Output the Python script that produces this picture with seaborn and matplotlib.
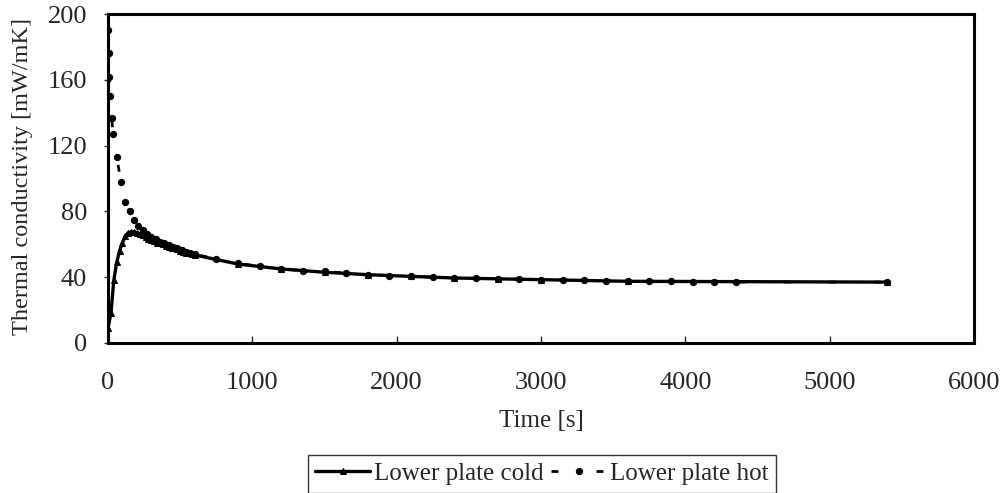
import matplotlib
matplotlib.use("Agg")
import matplotlib.pyplot as plt
import seaborn as sns

# === Data ===
cold_time = [0, 20, 40, 60, 80, 100, 120, 140, 160, 180, 200, 220, 240, 260, 280,
             300, 320, 340, 360, 380, 400, 420, 440, 460, 480, 500, 520, 540, 560,
             580, 600, 900, 1200, 1500, 1800, 2100, 2400, 2700, 3000, 3600, 5400]
cold_k = [9, 18, 38, 49, 56, 61, 65, 67, 67.5, 67.5, 67, 66.5, 65.5, 64.5, 63.5,
          62.5, 62, 61, 60.5, 60, 59, 58.5, 58, 57.5, 57, 56, 55.5, 55, 54.5,
          54, 53.5, 48, 45, 43, 41.5, 40.5, 39.5, 39, 38.5, 37.5, 37]

hot_time = [0, 5, 10, 15, 25, 35, 60, 90, 120, 150, 180, 210, 240, 270, 300, 330,
            360, 390, 420, 450, 480, 510, 540, 570, 600, 750, 900, 1050, 1200, 1350,
            1500, 1650, 1800, 1950, 2100, 2250, 2400, 2550, 2700, 2850, 3000, 3150,
            3300, 3450, 3600, 3750, 3900, 4050, 4200, 4350, 5400]
hot_k = [190, 176, 162, 150, 137, 127, 113, 98, 86, 80, 74.5, 71, 68.5, 66.5, 64.5, 63,
         61.5, 60.5, 59.5, 58.5, 57.5, 56.5, 55.5, 55, 54, 51, 48.5, 46.5, 45, 44,
         43.5, 42.5, 41.5, 41, 40.5, 40, 39.5, 39.3, 39, 38.8, 38.5, 38.3,
         38, 37.8, 37.7, 37.5, 37.4, 37.3, 37.2, 37.1, 37]

x_ticks = [0, 1000, 2000, 3000, 4000, 5000, 6000]
y_ticks = [0, 40, 80, 120, 160, 200]

# === Style ===
sns.set_style("white")
plt.rcParams["font.family"] = ["Liberation Serif", "DejaVu Serif"]

fig = plt.figure(figsize=(10.04, 4.93), dpi=100)
ax = fig.add_axes([0.1076, 0.3043, 0.8625, 0.6673])

# === Draw series ===
sns.lineplot(x=cold_time, y=cold_k, ax=ax, color="black", linewidth=2.4,
             marker="^", markersize=5, markeredgecolor="black",
             markerfacecolor="black", sort=False, label="Lower plate cold")
sns.lineplot(x=hot_time, y=hot_k, ax=ax, color="black", linewidth=2.0,
             linestyle=(0, (2.5, 13.7)), marker="o", markersize=4.5,
             markeredgecolor="black", markerfacecolor="black", sort=False,
             label="Lower plate hot")

# === Axes ===
ax.set_xlim(0, 6000)
ax.set_ylim(0, 200)
ax.set_xticks(x_ticks)
ax.set_yticks(y_ticks)
ax.tick_params(axis="x", direction="in", length=5, width=1, labelsize=19, pad=21,
               bottom=True)
ax.tick_params(axis="y", direction="out", length=3, width=1, labelsize=19, pad=12,
               left=True)
for s in ax.spines.values():
    s.set_color("black")
    s.set_linewidth(2.2)

ax.set_xlabel("Time [s]", fontsize=18)
ax.xaxis.set_label_coords(0.5, -0.205)
ax.set_ylabel("Thermal conductivity [mW/mK]", fontsize=17.5)
ax.yaxis.set_label_coords(-0.0866, 0.506)

# === Legend below the plot ===
handles, labels = ax.get_legend_handles_labels()
ax.get_legend().remove()
leg = fig.legend(handles, labels, loc="upper left",
                 bbox_to_anchor=(308 / 1004, 1 - 455 / 493), ncol=2,
                 fontsize=18, frameon=True, fancybox=False, handlelength=2.2,
                 handletextpad=0.15, columnspacing=0.3, borderpad=0.3,
                 borderaxespad=0)
leg.get_frame().set_edgecolor("black")
leg.get_frame().set_linewidth(1.0)

fig.savefig("out.png", dpi=100)
plt.close(fig)
